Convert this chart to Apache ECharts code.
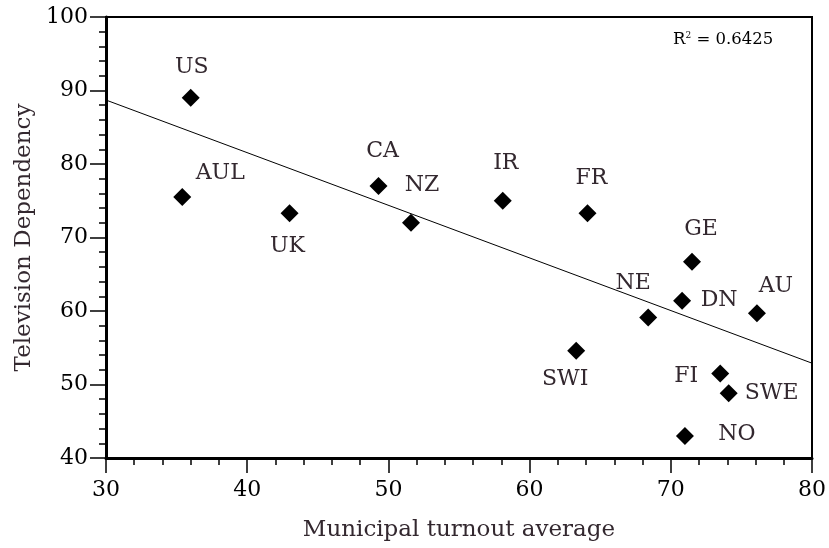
<!DOCTYPE html>
<html>
<head>
<meta charset="utf-8">
<script src="https://cdn.jsdelivr.net/npm/echarts@6/dist/echarts.min.js"></script>
<style>html,body{margin:0;padding:0;background:#fff}#c{width:829px;height:548px}</style>
</head>
<body>
<div id="c"></div>
<script>
var countries = ['US','AUL','UK','CA','NZ','IR','FR','GE','NE','DN','AU','SWI','FI','SWE','NO'];
var turnout = [36.0, 35.4, 43.0, 49.3, 51.6, 58.1, 64.1, 71.5, 68.4, 70.8, 76.1, 63.3, 73.5, 74.1, 71.0];
var tvDependency = [89.0, 75.5, 73.3, 77.0, 72.0, 75.0, 73.3, 66.7, 59.1, 61.4, 59.7, 54.6, 51.5, 48.8, 43.0];
var trendX = [30, 80];
var trendY = [88.7, 52.9];
var rSquared = '0.6425';
var xTicks = [30, 40, 50, 60, 70, 80];
var yTicks = [40, 50, 60, 70, 80, 90, 100];

// label offsets (style, in px) relative to the marker
var labelOffsets = {
  US:[1,-31], AUL:[38,-24], UK:[-2,33], CA:[4,-35], NZ:[11,-38], IR:[3,-37], FR:[4,-35],
  GE:[9,-32], NE:[-15,-34], DN:[37,0], AU:[19,-27], SWI:[-11,29], FI:[-34,3], SWE:[43,0], NO:[52,-2]
};

var FONT = '"DejaVu Serif", serif';
var TXT = '#33282f';

var pts = countries.map(function(c, i){
  return {
    name: c,
    value: [turnout[i], tvDependency[i]],
    label: { offset: labelOffsets[c] }
  };
});

var chart = echarts.init(document.getElementById('c'));
chart.setOption({
  animation: false,
  backgroundColor: '#fff',
  grid: { left: 106, right: 17, top: 17, bottom: 90, show: true, borderColor: '#000', borderWidth: 2 },
  xAxis: {
    type: 'value', min: xTicks[0], max: xTicks[xTicks.length-1], interval: 10,
    name: 'Municipal turnout average', nameLocation: 'middle', nameGap: 61,
    nameTextStyle: { fontFamily: FONT, fontSize: 23, color: TXT },
    axisLine: { show: true, onZero: false, lineStyle: { color: '#000', width: 3 } },
    axisTick: { show: true, length: 15, lineStyle: { color: '#000', width: 1.5 } },
    minorTick: { show: true, splitNumber: 5, length: 7, lineStyle: { color: '#000', width: 1.5 } },
    splitLine: { show: false },
    axisLabel: { fontFamily: FONT, fontSize: 22, color: '#000', margin: 21 }
  },
  yAxis: {
    type: 'value', min: yTicks[0], max: yTicks[yTicks.length-1], interval: 10,
    name: 'Television Dependency', nameLocation: 'middle', nameGap: 70,
    nameTextStyle: { fontFamily: FONT, fontSize: 23, color: TXT },
    axisLine: { show: true, onZero: false, lineStyle: { color: '#000', width: 3 } },
    axisTick: { show: true, length: 16, lineStyle: { color: '#000', width: 1.5 } },
    minorTick: { show: true, splitNumber: 5, length: 7, lineStyle: { color: '#000', width: 1.5 } },
    splitLine: { show: false },
    axisLabel: { fontFamily: FONT, fontSize: 22, color: '#000', margin: 18 }
  },
  graphic: [{
    type: 'text', left: 673, top: 31,
    style: {
      text: '{r|R}{s|2}{r| = ' + rSquared + '}',
      rich: {
        r: { fontFamily: FONT, fontSize: 16.5, fill: '#000' },
        s: { fontFamily: FONT, fontSize: 9, fill: '#000', verticalAlign: 'top', padding: [0,0,7,0] }
      }
    }
  }],
  series: [
    {
      type: 'line',
      data: trendX.map(function(x, i){ return [x, trendY[i]]; }),
      showSymbol: false, symbol: 'none',
      lineStyle: { color: '#000', width: 1 },
      silent: true, z: 1
    },
    {
      type: 'scatter',
      data: pts,
      symbol: 'diamond', symbolSize: 18,
      itemStyle: { color: '#000', opacity: 1 },
      label: {
        show: true, position: 'inside', formatter: '{b}',
        fontFamily: FONT, fontSize: 22, color: TXT
      },
      z: 3
    }
  ]
});
</script>
</body>
</html>
